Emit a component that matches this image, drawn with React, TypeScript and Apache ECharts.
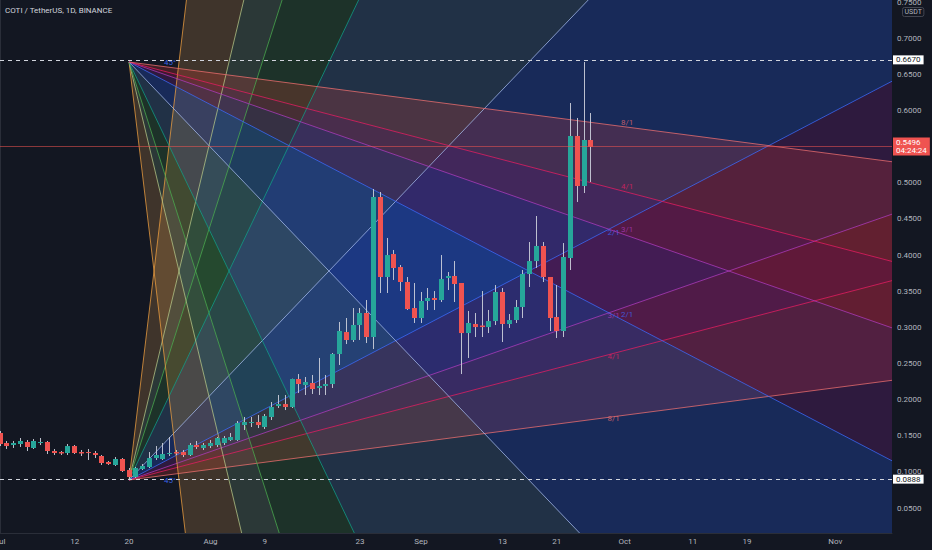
import React, { useEffect, useRef } from 'react';
import * as echarts from 'echarts';

const chartTitle = 'COTI / TetherUS, 1D, BINANCE';
const quoteLabel = 'USDT';
const anchorAngleLabel = '45°';
const baseDate = '2021-07-01';
const candleStartDate = '2021-07-01';

const candleOpen = [
  0.1538, 0.1400, 0.1372, 0.1386, 0.1414, 0.1331, 0.1407, 0.1414, 0.1289, 0.1275,
  0.1262, 0.1358, 0.1275, 0.1275, 0.1262, 0.1220, 0.1137, 0.1096, 0.1179, 0.1026,
  0.0930, 0.1040, 0.1068, 0.1192, 0.1179, 0.1248, 0.1275, 0.1275, 0.1234, 0.1372,
  0.1331, 0.1358, 0.1372, 0.1400, 0.1441, 0.1441, 0.1649, 0.1677, 0.1690, 0.1621,
  0.1760, 0.1912, 0.1939, 0.1898, 0.2285, 0.2202, 0.2230, 0.2161, 0.2188, 0.2216,
  0.2631, 0.2935, 0.2825, 0.3032, 0.3198, 0.2866, 0.4803, 0.3696, 0.4014, 0.3834,
  0.3627, 0.3267, 0.3129, 0.3364, 0.3406, 0.3378, 0.3682, 0.3710, 0.3613, 0.2921,
  0.3046, 0.3025, 0.3004, 0.3087, 0.3489, 0.3046, 0.3101, 0.3281, 0.3738, 0.3917,
  0.4125, 0.3696, 0.3143, 0.2949, 0.3959, 0.5647, 0.4955, 0.5591,
];
const candleClose = [
  0.1386, 0.1358, 0.1400, 0.1428, 0.1345, 0.1428, 0.1414, 0.1289, 0.1262, 0.1255,
  0.1358, 0.1262, 0.1255, 0.1268, 0.1234, 0.1123, 0.1109, 0.1179, 0.1013, 0.0930,
  0.1054, 0.1082, 0.1192, 0.1234, 0.1248, 0.1262, 0.1255, 0.1234, 0.1372, 0.1345,
  0.1372, 0.1400, 0.1469, 0.1469, 0.1483, 0.1677, 0.1690, 0.1690, 0.1649, 0.1773,
  0.1898, 0.1939, 0.1898, 0.2285, 0.2216, 0.2244, 0.2147, 0.2188, 0.2216, 0.2631,
  0.2949, 0.2825, 0.3032, 0.3198, 0.2866, 0.4803, 0.3696, 0.4000, 0.3821, 0.3627,
  0.3253, 0.3129, 0.3364, 0.3406, 0.3378, 0.3668, 0.3710, 0.3599, 0.2921, 0.3060,
  0.3004, 0.3004, 0.3087, 0.3489, 0.3046, 0.3101, 0.3281, 0.3738, 0.3917, 0.4125,
  0.3696, 0.3129, 0.2949, 0.3973, 0.5647, 0.4955, 0.5591, 0.5496,
];
const candleHigh = [
  0.1566, 0.1428, 0.1428, 0.1469, 0.1441, 0.1455, 0.1469, 0.1428, 0.1317, 0.1289,
  0.1386, 0.1372, 0.1303, 0.1317, 0.1289, 0.1234, 0.1151, 0.1206, 0.1192, 0.1054,
  0.1068, 0.1109, 0.1275, 0.1358, 0.1400, 0.1483, 0.1303, 0.1303, 0.1400, 0.1428,
  0.1400, 0.1441, 0.1483, 0.1497, 0.1538, 0.1704, 0.1760, 0.1760, 0.1787, 0.1801,
  0.1967, 0.2064, 0.2064, 0.2290, 0.2354, 0.2313, 0.2341, 0.2576, 0.2341, 0.2645,
  0.3074, 0.3129, 0.3267, 0.3267, 0.3378, 0.4913, 0.4872, 0.4236, 0.4070, 0.3862,
  0.3696, 0.3613, 0.3489, 0.3544, 0.3502, 0.4000, 0.3765, 0.3917, 0.3613, 0.3226,
  0.3198, 0.3502, 0.3240, 0.3585, 0.3544, 0.3184, 0.3378, 0.3793, 0.4180, 0.4540,
  0.4180, 0.3696, 0.3585, 0.4166, 0.6103, 0.5896, 0.6670, 0.5965,
];
const candleLow = [
  0.1358, 0.1317, 0.1331, 0.1345, 0.1289, 0.1317, 0.1372, 0.1248, 0.1234, 0.1234,
  0.1234, 0.1248, 0.1220, 0.1165, 0.1192, 0.1096, 0.1096, 0.1082, 0.0999, 0.0888,
  0.0916, 0.1026, 0.1054, 0.1165, 0.1165, 0.1220, 0.1234, 0.1206, 0.1220, 0.1317,
  0.1303, 0.1331, 0.1345, 0.1372, 0.1428, 0.1428, 0.1580, 0.1621, 0.1607, 0.1594,
  0.1718, 0.1884, 0.1856, 0.1884, 0.2091, 0.2064, 0.2078, 0.2064, 0.2064, 0.2161,
  0.2479, 0.2769, 0.2797, 0.2825, 0.2783, 0.2700, 0.3475, 0.3475, 0.3655, 0.3502,
  0.3240, 0.3060, 0.3060, 0.3240, 0.3240, 0.3350, 0.3516, 0.3350, 0.2354, 0.2576,
  0.2866, 0.2866, 0.2921, 0.3032, 0.2797, 0.2991, 0.3060, 0.3129, 0.3558, 0.3821,
  0.3627, 0.2949, 0.2852, 0.2866, 0.3793, 0.4734, 0.4858, 0.5010,
];

const xTickDates = [
  '2021-07-01', '2021-07-12', '2021-07-20', '2021-08-01', '2021-08-09', '2021-08-23',
  '2021-09-01', '2021-09-13', '2021-09-21', '2021-10-01', '2021-10-11', '2021-10-19', '2021-11-01',
];
const monthNames = ['Jan', 'Feb', 'Mar', 'Apr', 'May', 'Jun', 'Jul', 'Aug', 'Sep', 'Oct', 'Nov', 'Dec'];
const xMinDate = '2021-07-01';
const xSpanDays = 131.35;

const yMin = 0.0155;
const yMax = 0.7528;
const yTicks = [0.05, 0.1, 0.15, 0.2, 0.25, 0.3, 0.35, 0.4, 0.45, 0.5, 0.6, 0.65, 0.7, 0.75];

const fanAnchorDate = '2021-07-20';
const fanLowPrice = 0.0888;
const fanHighPrice = 0.667;
const fanUnitPerDay = 0.00982;
const fanLabelDateLow = '2021-09-28';
const fanLabelDateHigh = '2021-09-30';
const fanLevelLabels = ['1/8', '1/4', '1/3', '1/2', '1/1', '2/1', '3/1', '4/1', '8/1'];
const fanLevelMultipliers = [8, 4, 3, 2, 1, 1 / 2, 1 / 3, 1 / 4, 1 / 8];
const fanLineColors = ['#f0a040', '#b8c98a', '#4caf50', '#11a08a', '#a8bef0', '#3d6cff', '#b03cc0', '#e91e63', '#f07070'];
const fanFillColors = [
  'rgba(240,170,80,0.2)',
  'rgba(140,190,140,0.2)',
  'rgba(76,175,80,0.18)',
  'rgba(100,170,240,0.18)',
  'rgba(41,98,255,0.25)',
  'rgba(156,39,176,0.2)',
  'rgba(233,30,99,0.2)',
  'rgba(244,67,54,0.2)',
];

const lastPrice = 0.5496;
const lastPriceCountdown = '04:24:24';

const upColor = '#26a69a';
const downColor = '#ef5350';
const wickColor = 'rgba(205,208,220,0.9)';
const fontFamily = 'Roboto, "Noto Sans", sans-serif';

const DAY = 86400000;
const dayNum = (d: string) => (Date.parse(d) - Date.parse(baseDate)) / DAY;
const dayLabel = (n: number) => {
  const d = new Date(Date.parse(baseDate) + Math.round(n) * DAY);
  return d.getUTCDate() === 1 ? monthNames[d.getUTCMonth()] : String(d.getUTCDate());
};

const candleStart = dayNum(candleStartDate);
const candleRows = candleOpen.map((o, i) => [candleStart + i, o, candleClose[i], candleLow[i], candleHigh[i]]);

function clipPolygon(pts: number[][], r: any) {
  const x0 = r.x, x1 = r.x + r.width, y0 = r.y, y1 = r.y + r.height;
  const edges: any[] = [
    [(p: number[]) => p[0] >= x0, (a: number[], b: number[]) => { const t = (x0 - a[0]) / (b[0] - a[0]); return [x0, a[1] + t * (b[1] - a[1])]; }],
    [(p: number[]) => p[0] <= x1, (a: number[], b: number[]) => { const t = (x1 - a[0]) / (b[0] - a[0]); return [x1, a[1] + t * (b[1] - a[1])]; }],
    [(p: number[]) => p[1] >= y0, (a: number[], b: number[]) => { const t = (y0 - a[1]) / (b[1] - a[1]); return [a[0] + t * (b[0] - a[0]), y0]; }],
    [(p: number[]) => p[1] <= y1, (a: number[], b: number[]) => { const t = (y1 - a[1]) / (b[1] - a[1]); return [a[0] + t * (b[0] - a[0]), y1]; }],
  ];
  let out = pts;
  for (const [inside, cut] of edges) {
    const input = out;
    out = [];
    for (let i = 0; i < input.length; i++) {
      const cur = input[i];
      const prev = input[(i + input.length - 1) % input.length];
      const cIn = inside(cur), pIn = inside(prev);
      if (cIn) {
        if (!pIn) out.push(cut(prev, cur));
        out.push(cur);
      } else if (pIn) {
        out.push(cut(prev, cur));
      }
    }
    if (!out.length) break;
  }
  return out;
}

function clipSegment(p: number[], q: number[], r: any) {
  let t0 = 0, t1 = 1;
  const dx = q[0] - p[0], dy = q[1] - p[1];
  const checks = [
    [-dx, p[0] - r.x],
    [dx, r.x + r.width - p[0]],
    [-dy, p[1] - r.y],
    [dy, r.y + r.height - p[1]],
  ];
  for (const [pp, qq] of checks) {
    if (pp === 0) {
      if (qq < 0) return null;
    } else {
      const t = qq / pp;
      if (pp < 0) {
        if (t > t1) return null;
        if (t > t0) t0 = t;
      } else {
        if (t < t0) return null;
        if (t < t1) t1 = t;
      }
    }
  }
  return [p[0] + t0 * dx, p[1] + t0 * dy, p[0] + t1 * dx, p[1] + t1 * dy];
}

const anchorDay = dayNum(fanAnchorDate);

function renderFan(params: any, api: any) {
  const fan = api.value(0);
  const layer = api.value(1);
  const rect = params.coordSys;
  const anchorPrice = fan === 0 ? fanLowPrice : fanHighPrice;
  const dir = fan === 0 ? 1 : -1;
  const far = 200;
  const A = api.coord([anchorDay, anchorPrice]);
  const ends = fanLevelMultipliers.map((m) =>
    api.coord([anchorDay + far, anchorPrice + dir * m * fanUnitPerDay * far])
  );
  const children: any[] = [];
  if (layer === 0) {
    for (let i = 0; i < ends.length - 1; i++) {
      const poly = clipPolygon([A, ends[i], ends[i + 1]], rect);
      if (poly.length >= 3) {
        children.push({ type: 'polygon', silent: true, shape: { points: poly }, style: { fill: fanFillColors[i] } });
      }
    }
  } else {
    ends.forEach((E: number[], i: number) => {
      const seg = clipSegment(A, E, rect);
      if (seg) {
        children.push({
          type: 'line', silent: true,
          shape: { x1: seg[0], y1: seg[1], x2: seg[2], y2: seg[3] },
          style: { stroke: fanLineColors[i], lineWidth: 1, opacity: 0.75 },
        });
      }
    });
    const labelDay = dayNum(fan === 0 ? fanLabelDateLow : fanLabelDateHigh);
    const days = labelDay - anchorDay;
    fanLevelLabels.forEach((t, i) => {
      const P = api.coord([labelDay, anchorPrice + dir * fanLevelMultipliers[i] * fanUnitPerDay * days]);
      if (P[1] > rect.y + 6 && P[1] < rect.y + rect.height - 6) {
        children.push({
          type: 'text', silent: true,
          x: P[0] + 3, y: P[1] + 1,
          style: {
            text: t, fill: fanLineColors[i], opacity: 0.75,
            fontSize: 8, fontFamily,
            align: 'left', verticalAlign: fan === 0 ? 'middle' : 'bottom',
          },
        });
      }
    });
    children.push({
      type: 'text', silent: true,
      x: A[0] + 35, y: A[1],
      style: {
        text: anchorAngleLabel, fill: '#3d6cff', opacity: 0.9,
        fontSize: 8, fontFamily, align: 'left', verticalAlign: 'middle',
      },
    });
  }
  return { type: 'group', children };
}

function renderCandle(params: any, api: any) {
  const day = api.value(0);
  const o = api.value(1), c = api.value(2), l = api.value(3), h = api.value(4);
  const po = api.coord([day, o]);
  const pc = api.coord([day, c]);
  const pl = api.coord([day, l]);
  const ph = api.coord([day, h]);
  const cx = Math.floor(po[0]) + 0.5;
  const up = c >= o;
  const top = Math.min(po[1], pc[1]);
  const hgt = Math.max(Math.abs(po[1] - pc[1]), 1);
  return {
    type: 'group',
    children: [
      { type: 'line', shape: { x1: cx, y1: ph[1], x2: cx, y2: pl[1] }, style: { stroke: wickColor, lineWidth: 1 } },
      { type: 'rect', shape: { x: cx - 2.5, y: top, width: 5, height: hgt }, style: { fill: up ? upColor : downColor } },
    ],
  };
}

const axisTextColor = '#b2b5be';

export default function App() {
  const ref = useRef<HTMLDivElement>(null);
  useEffect(() => {
    if (!ref.current) return;
    const chart = echarts.init(ref.current, null, { renderer: 'svg' });
    const xMin = dayNum(xMinDate);
    chart.setOption({
      animation: false,
      backgroundColor: '#131722',
      textStyle: { fontFamily },
      grid: { left: 0, right: 40, top: 0, bottom: 17, containLabel: false, outerBoundsMode: 'none' },
      xAxis: {
        type: 'value',
        min: xMin,
        max: xMin + xSpanDays,
        axisLine: { show: true, onZero: false, lineStyle: { color: '#2a2e39' } },
        axisTick: { show: false },
        splitLine: { show: false },
        axisLabel: {
          color: axisTextColor,
          fontSize: 8,
          margin: 4,
          customValues: xTickDates.map(dayNum),
          formatter: (v: number) => dayLabel(v),
        },
      },
      yAxis: {
        type: 'value',
        position: 'right',
        min: yMin,
        max: yMax,
        axisLine: { show: true, lineStyle: { color: '#2a2e39' } },
        axisTick: { show: false },
        splitLine: { show: false },
        axisLabel: {
          color: axisTextColor,
          fontSize: 8,
          margin: 5,
          customValues: yTicks,
          formatter: (v: number) => v.toFixed(4),
        },
      },
      series: [
        {
          type: 'custom',
          renderItem: renderFan,
          data: [[0, 0], [1, 0], [0, 1], [1, 1]],
          silent: true,
          z: 1,
        },
        {
          type: 'custom',
          renderItem: renderCandle,
          data: candleRows,
          encode: { x: 0, y: [1, 2, 3, 4] },
          z: 3,
          markLine: {
            silent: true,
            symbol: ['none', 'none'],
            animation: false,
            data: [
              {
                yAxis: fanHighPrice,
                lineStyle: { type: [4, 4], color: '#d1d4dc', width: 1 },
                label: {
                  show: true, position: 'end', distance: 1,
                  formatter: fanHighPrice.toFixed(4),
                  backgroundColor: '#ffffff', color: '#131722',
                  padding: [1, 3, 0, 3], fontSize: 8, fontFamily,
                },
              },
              {
                yAxis: fanLowPrice,
                lineStyle: { type: [4, 4], color: '#d1d4dc', width: 1 },
                label: {
                  show: true, position: 'end', distance: 1,
                  formatter: fanLowPrice.toFixed(4),
                  backgroundColor: '#ffffff', color: '#131722',
                  padding: [1, 3, 0, 3], fontSize: 8, fontFamily,
                },
              },
              {
                yAxis: lastPrice,
                lineStyle: { type: 'solid', color: 'rgba(239,83,80,0.55)', width: 1 },
                label: {
                  show: true, position: 'end', distance: 1,
                  formatter: '{a|' + lastPrice.toFixed(4) + '}\n{b|' + lastPriceCountdown + '}',
                  backgroundColor: '#ef5350',
                  padding: [1, 3, 1, 3],
                  rich: {
                    a: { color: '#ffffff', fontSize: 8, lineHeight: 8, fontFamily },
                    b: { color: '#ffffff', fontSize: 8, lineHeight: 8, fontFamily },
                  },
                },
              },
            ],
          },
        },
      ],
      graphic: [
        {
          type: 'text', left: 5, top: 6,
          style: { text: chartTitle, fill: '#d1d4dc', fontSize: 8, fontFamily },
        },
        {
          type: 'text', left: 902, top: 7,
          style: {
            text: quoteLabel, fill: axisTextColor, fontSize: 7, fontFamily,
            borderColor: '#434651', borderWidth: 1, padding: [1, 2], borderRadius: 2,
          },
        },
      ],
    });
    return () => chart.dispose();
  }, []);
  return <div ref={ref} style={{ position: 'fixed', left: 0, top: 0, width: 932, height: 550 }} />;
}
